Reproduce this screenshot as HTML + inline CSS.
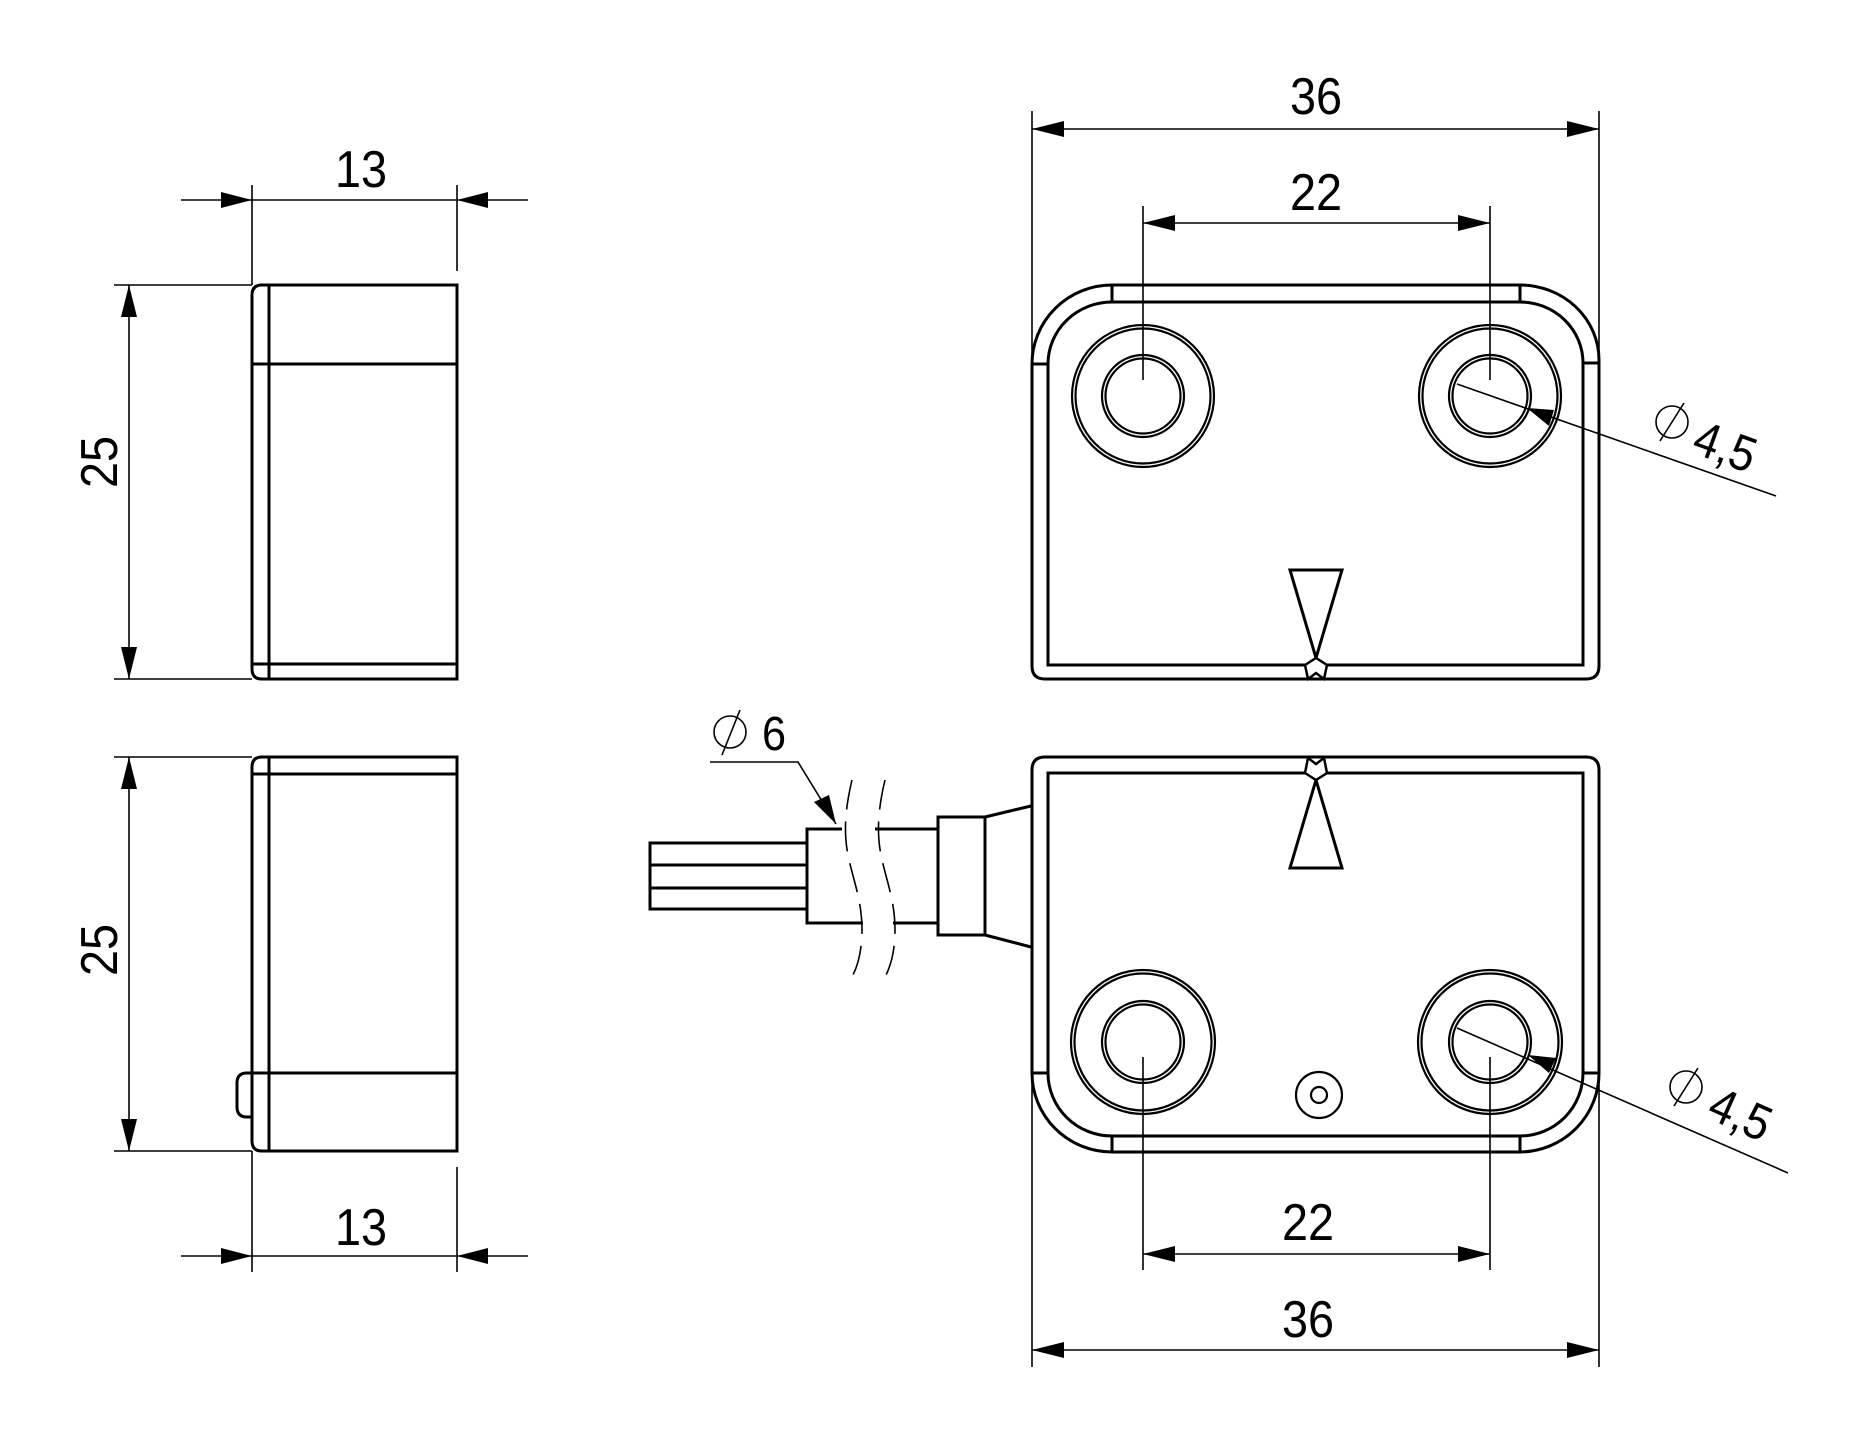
<!DOCTYPE html>
<html><head><meta charset="utf-8"><style>
html,body{margin:0;padding:0;background:#fff;}
svg{display:block;}
text{font-family:"Liberation Sans",Arial,sans-serif;fill:#000;}
</style></head><body>
<svg width="1870" height="1445" viewBox="0 0 1870 1445" xmlns="http://www.w3.org/2000/svg">
<g fill="none" stroke="#000" stroke-width="1.6">
<line x1="252" y1="185" x2="252" y2="285"/>
<line x1="457" y1="185" x2="457" y2="271"/>
<line x1="181" y1="200" x2="528" y2="200"/>
<line x1="114" y1="285" x2="252" y2="285"/>
<line x1="114" y1="679" x2="252" y2="679"/>
<line x1="129" y1="285" x2="129" y2="679"/>
<line x1="114" y1="757" x2="252" y2="757"/>
<line x1="114" y1="1151" x2="252" y2="1151"/>
<line x1="129" y1="757" x2="129" y2="1151"/>
<line x1="252" y1="1151" x2="252" y2="1272"/>
<line x1="457" y1="1167" x2="457" y2="1272"/>
<line x1="181" y1="1256" x2="528" y2="1256"/>
<line x1="1032" y1="111" x2="1032" y2="364"/>
<line x1="1599" y1="111" x2="1599" y2="364"/>
<line x1="1032" y1="129" x2="1599" y2="129"/>
<line x1="1143" y1="206" x2="1143" y2="380"/>
<line x1="1490" y1="206" x2="1490" y2="380"/>
<line x1="1143" y1="223" x2="1490" y2="223"/>
<line x1="1457" y1="384" x2="1776" y2="496"/>
<line x1="1032" y1="1073" x2="1032" y2="1367"/>
<line x1="1599" y1="1073" x2="1599" y2="1367"/>
<line x1="1032" y1="1350" x2="1599" y2="1350"/>
<line x1="1143" y1="1057" x2="1143" y2="1270"/>
<line x1="1490" y1="1057" x2="1490" y2="1270"/>
<line x1="1143" y1="1254" x2="1490" y2="1254"/>
<line x1="1457" y1="1028" x2="1788" y2="1173"/>
<polyline points="710,762 798,762 836,824"/>
</g>
<g fill="#000">
<polygon points="252,200 221,192 221,208"/>
<polygon points="457,200 488,192 488,208"/>
<polygon points="129,285 121,317 137,317"/>
<polygon points="129,679 121,647 137,647"/>
<polygon points="129,757 121,789 137,789"/>
<polygon points="129,1151 121,1119 137,1119"/>
<polygon points="252,1256 221,1248 221,1264"/>
<polygon points="457,1256 488,1248 488,1264"/>
<polygon points="1032,129 1064,121 1064,137"/>
<polygon points="1599,129 1567,121 1567,137"/>
<polygon points="1143,223 1175,215 1175,231"/>
<polygon points="1490,223 1458,215 1458,231"/>
<polygon points="1032,1350 1064,1342 1064,1358"/>
<polygon points="1599,1350 1567,1342 1567,1358"/>
<polygon points="1143,1254 1175,1246 1175,1262"/>
<polygon points="1490,1254 1458,1246 1458,1262"/>
<polygon points="1527,408 1554,410 1549,426"/>
<polygon points="1528,1055 1556,1058 1549,1073"/>
<polygon points="836,824 814,802 829,795"/>
</g>
<g fill="none" stroke="#000" stroke-width="3">
<path d="M262,285 H457 V679 H262 Q252,679 252,669 V295 Q252,285 262,285 Z"/>
<line x1="269" y1="285" x2="269" y2="679"/>
<line x1="252" y1="364" x2="457" y2="364"/>
<line x1="252" y1="664" x2="457" y2="664"/>
<path d="M262,757 H457 V1151 H262 Q252,1151 252,1141 V767 Q252,757 262,757 Z"/>
<line x1="269" y1="757" x2="269" y2="1151"/>
<line x1="252" y1="774" x2="457" y2="774"/>
<line x1="252" y1="1073" x2="457" y2="1073"/>
<path d="M252,1073 H247 Q237,1073 237,1083 V1107 Q237,1117 247,1117 H252"/>
<rect x="650" y="843" width="157" height="66"/>
<line x1="650" y1="865" x2="807" y2="865"/>
<line x1="650" y1="888" x2="807" y2="888"/>
<polyline points="842,829 807,829 807,923 863,923"/>
<polyline points="875,829 938,829"/>
<polyline points="893,923 938,923"/>
<rect x="938" y="817" width="47" height="118"/>
<polyline points="985,817 1031,806"/>
<polyline points="985,935 1031,947"/>
<path d="M1032,364 A80,79 0 0 1 1112,285 H1520 A79,75 0 0 1 1599,360 V666 Q1599,679 1586,679 H1045 Q1032,679 1032,666 Z"/>
<path d="M1048,364 A64,62 0 0 1 1112,302 H1520 A63,61 0 0 1 1583,363 V665 H1048 Z"/>
<line x1="1032" y1="364" x2="1048" y2="364"/>
<line x1="1583" y1="363" x2="1599" y2="363"/>
<line x1="1112" y1="285" x2="1112" y2="302"/>
<line x1="1520" y1="285" x2="1520" y2="302"/>
<polygon points="1290,570 1342,570 1316,658"/>
<path d="M1045,757 H1586 Q1599,757 1599,770 V1073 A80,79 0 0 1 1520,1152 H1112 A80,79 0 0 1 1032,1073 V770 Q1032,757 1045,757 Z"/>
<path d="M1048,773 H1583 V1073 A63,63 0 0 1 1520,1136 H1112 A64,63 0 0 1 1048,1073 Z"/>
<line x1="1032" y1="1073" x2="1048" y2="1073"/>
<line x1="1583" y1="1073" x2="1599" y2="1073"/>
<line x1="1112" y1="1136" x2="1112" y2="1152"/>
<line x1="1520" y1="1136" x2="1520" y2="1152"/>
<polygon points="1290,868 1342,868 1316,780"/>
</g>
<g fill="#fff" stroke="#000" stroke-width="2.5">
<polygon points="1305,665 1316,658 1327,665 1324,679 1316,673 1308,679"/>
<polygon points="1305,773 1316,780 1327,773 1324,758 1316,764 1308,758"/>
</g>
<g fill="none" stroke="#000" stroke-width="2.2">
<circle cx="1143" cy="396" r="71"/><circle cx="1143" cy="396" r="67.5"/>
<circle cx="1143" cy="396" r="41"/><circle cx="1143" cy="396" r="37.5"/>
<circle cx="1490" cy="396" r="71"/><circle cx="1490" cy="396" r="67.5"/>
<circle cx="1490" cy="396" r="41"/><circle cx="1490" cy="396" r="37.5"/>
<circle cx="1143" cy="1042" r="72"/><circle cx="1143" cy="1042" r="68.5"/>
<circle cx="1143" cy="1042" r="41"/><circle cx="1143" cy="1042" r="37.5"/>
<circle cx="1490" cy="1042" r="72"/><circle cx="1490" cy="1042" r="68.5"/>
<circle cx="1490" cy="1042" r="41"/><circle cx="1490" cy="1042" r="37.5"/>
<circle cx="1319" cy="1095" r="23"/><circle cx="1319" cy="1095" r="8"/>
</g>
<g fill="none" stroke="#000" stroke-width="1.6" stroke-dasharray="30,12">
<path d="M852,780 C846,805 843,830 848,855 C853,880 862,900 862,930 C862,950 858,965 853,975"/>
<path d="M885,780 C879,805 876,830 881,855 C886,880 895,900 895,930 C895,950 891,965 886,975"/>
</g>
<g font-size="52">
<text transform="translate(361,187) scale(0.9,1)" text-anchor="middle">13</text>
<text transform="translate(361,1245) scale(0.9,1)" text-anchor="middle">13</text>
<text transform="translate(117,462) rotate(-90) scale(0.9,1)" text-anchor="middle">25</text>
<text transform="translate(117,950) rotate(-90) scale(0.9,1)" text-anchor="middle">25</text>
<text transform="translate(1316,114) scale(0.9,1)" text-anchor="middle">36</text>
<text transform="translate(1316,210) scale(0.9,1)" text-anchor="middle">22</text>
<text transform="translate(1308,1240) scale(0.9,1)" text-anchor="middle">22</text>
<text transform="translate(1308,1337) scale(0.9,1)" text-anchor="middle">36</text>
<text transform="translate(762,750) scale(0.9,1)" font-size="48">6</text>
<text transform="translate(1690,452) rotate(20) scale(0.9,1)" font-size="50">4,5</text>
<text transform="translate(1705,1117) rotate(24) scale(0.9,1)" font-size="50">4,5</text>
</g>
<g fill="none" stroke="#000" stroke-width="1.6">
<circle cx="730" cy="732" r="16"/><line x1="722" y1="755" x2="740" y2="710"/>
<circle cx="1672" cy="422" r="16"/><line x1="1660" y1="441" x2="1684" y2="403"/>
<circle cx="1686" cy="1087" r="16"/><line x1="1674" y1="1106" x2="1698" y2="1068"/>
</g>
</svg>
</body></html>
